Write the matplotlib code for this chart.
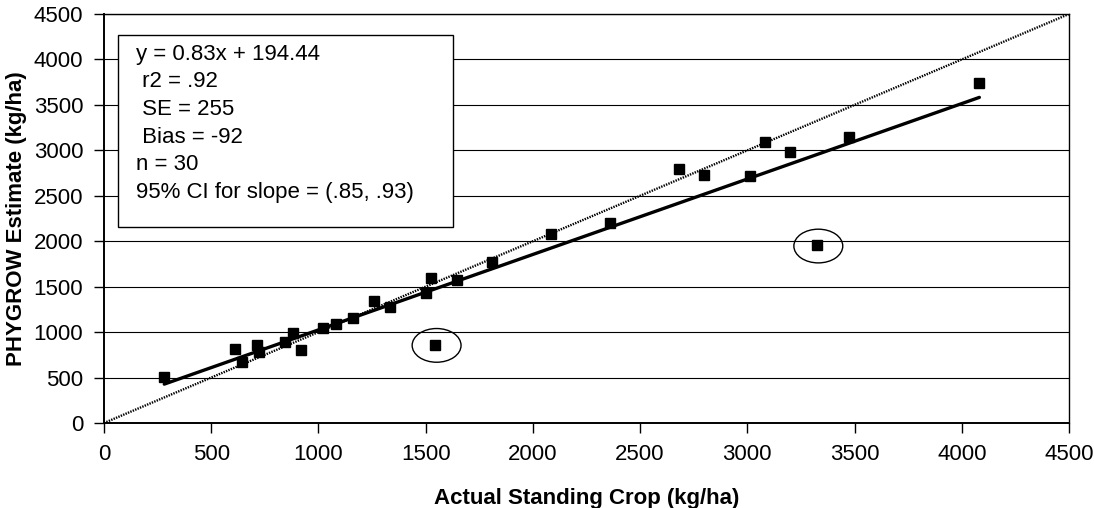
import matplotlib

matplotlib.use("Agg")
import matplotlib.pyplot as plt  # noqa: E402
from matplotlib.patches import Ellipse, Rectangle  # noqa: E402
import numpy as np  # noqa: E402

plt.rcParams["font.family"] = ["Liberation Sans", "DejaVu Sans"]

# actual standing crop vs PHYGROW estimate (kg/ha)
actual = [281, 611, 645, 715, 722, 842, 882, 917, 1020, 1082, 1162, 1260, 1336, 1501,
          1524, 1543, 1648, 1808, 2084, 2359, 2683, 2798, 3012, 3082, 3200, 3323, 3474, 4082]
phygrow = [509, 812, 666, 863, 782, 888, 986, 799, 1050, 1090, 1152, 1340, 1272, 1430,
           1590, 862, 1573, 1775, 2079, 2196, 2790, 2728, 2720, 3087, 2984, 1955, 3143, 3743]

# circled outliers
outlier_x = [1543, 3323]
outlier_y = [862, 1955]

slope = 0.83
intercept = 194.44
stats_lines = [
    "y = 0.83x + 194.44",
    " r2 = .92",
    " SE = 255",
    " Bias = -92",
    "n = 30",
    "95% CI for slope = (.85, .93)",
]

ticks = list(range(0, 4501, 500))

fig = plt.figure(figsize=(10.94, 5.08), dpi=100)
ax = fig.add_axes([104 / 1094, 1 - 423 / 508, 965 / 1094, 409 / 508])

ax.set_xlim(0, 4500)
ax.set_ylim(0, 4500)
ax.set_xticks(ticks)
ax.set_yticks(ticks)
ax.yaxis.grid(True, color="black", linewidth=0.8)
ax.set_axisbelow(True)
for side in ax.spines.values():
    side.set_linewidth(1.0)
ax.spines["left"].set_linewidth(1.4)
ax.spines["bottom"].set_linewidth(1.4)
ax.tick_params(direction="out", length=7, width=1, labelsize=16, pad=8)

# 1:1 line
ax.plot([0, 4500], [0, 4500], color="black", linewidth=1.7,
        linestyle=(0, (0.6, 0.5)), zorder=2)

# fitted regression line
xfit = np.array([min(actual), max(actual)])
ax.plot(xfit, slope * xfit + intercept, color="black", linewidth=2.4,
        solid_capstyle="round", zorder=3)

ax.plot(actual, phygrow, linestyle="none", marker="s", markersize=7,
        color="black", zorder=4)

for ox, oy in zip(outlier_x, outlier_y):
    ax.add_patch(Ellipse((ox + 8, oy - 8), 228, 371, fill=False,
                         edgecolor="black", linewidth=1.0, zorder=4))

# statistics box
ax.add_patch(Rectangle((65, 2156), 1563, 2113, facecolor="white",
                       edgecolor="black", linewidth=1.0, zorder=5))
ax.text(149, 4175, "\n".join(stats_lines), fontsize=16, va="top",
        ha="left", linespacing=1.42, zorder=6,
        transform=ax.transData)

ax.set_xlabel("Actual Standing Crop (kg/ha)", fontsize=16, fontweight="bold")
ax.set_ylabel("PHYGROW Estimate (kg/ha)", fontsize=16, fontweight="bold")
ax.xaxis.set_label_coords(0.5, -0.158)
ax.yaxis.set_label_coords(-0.08, 0.5)

fig.savefig("out.png", dpi=100)
